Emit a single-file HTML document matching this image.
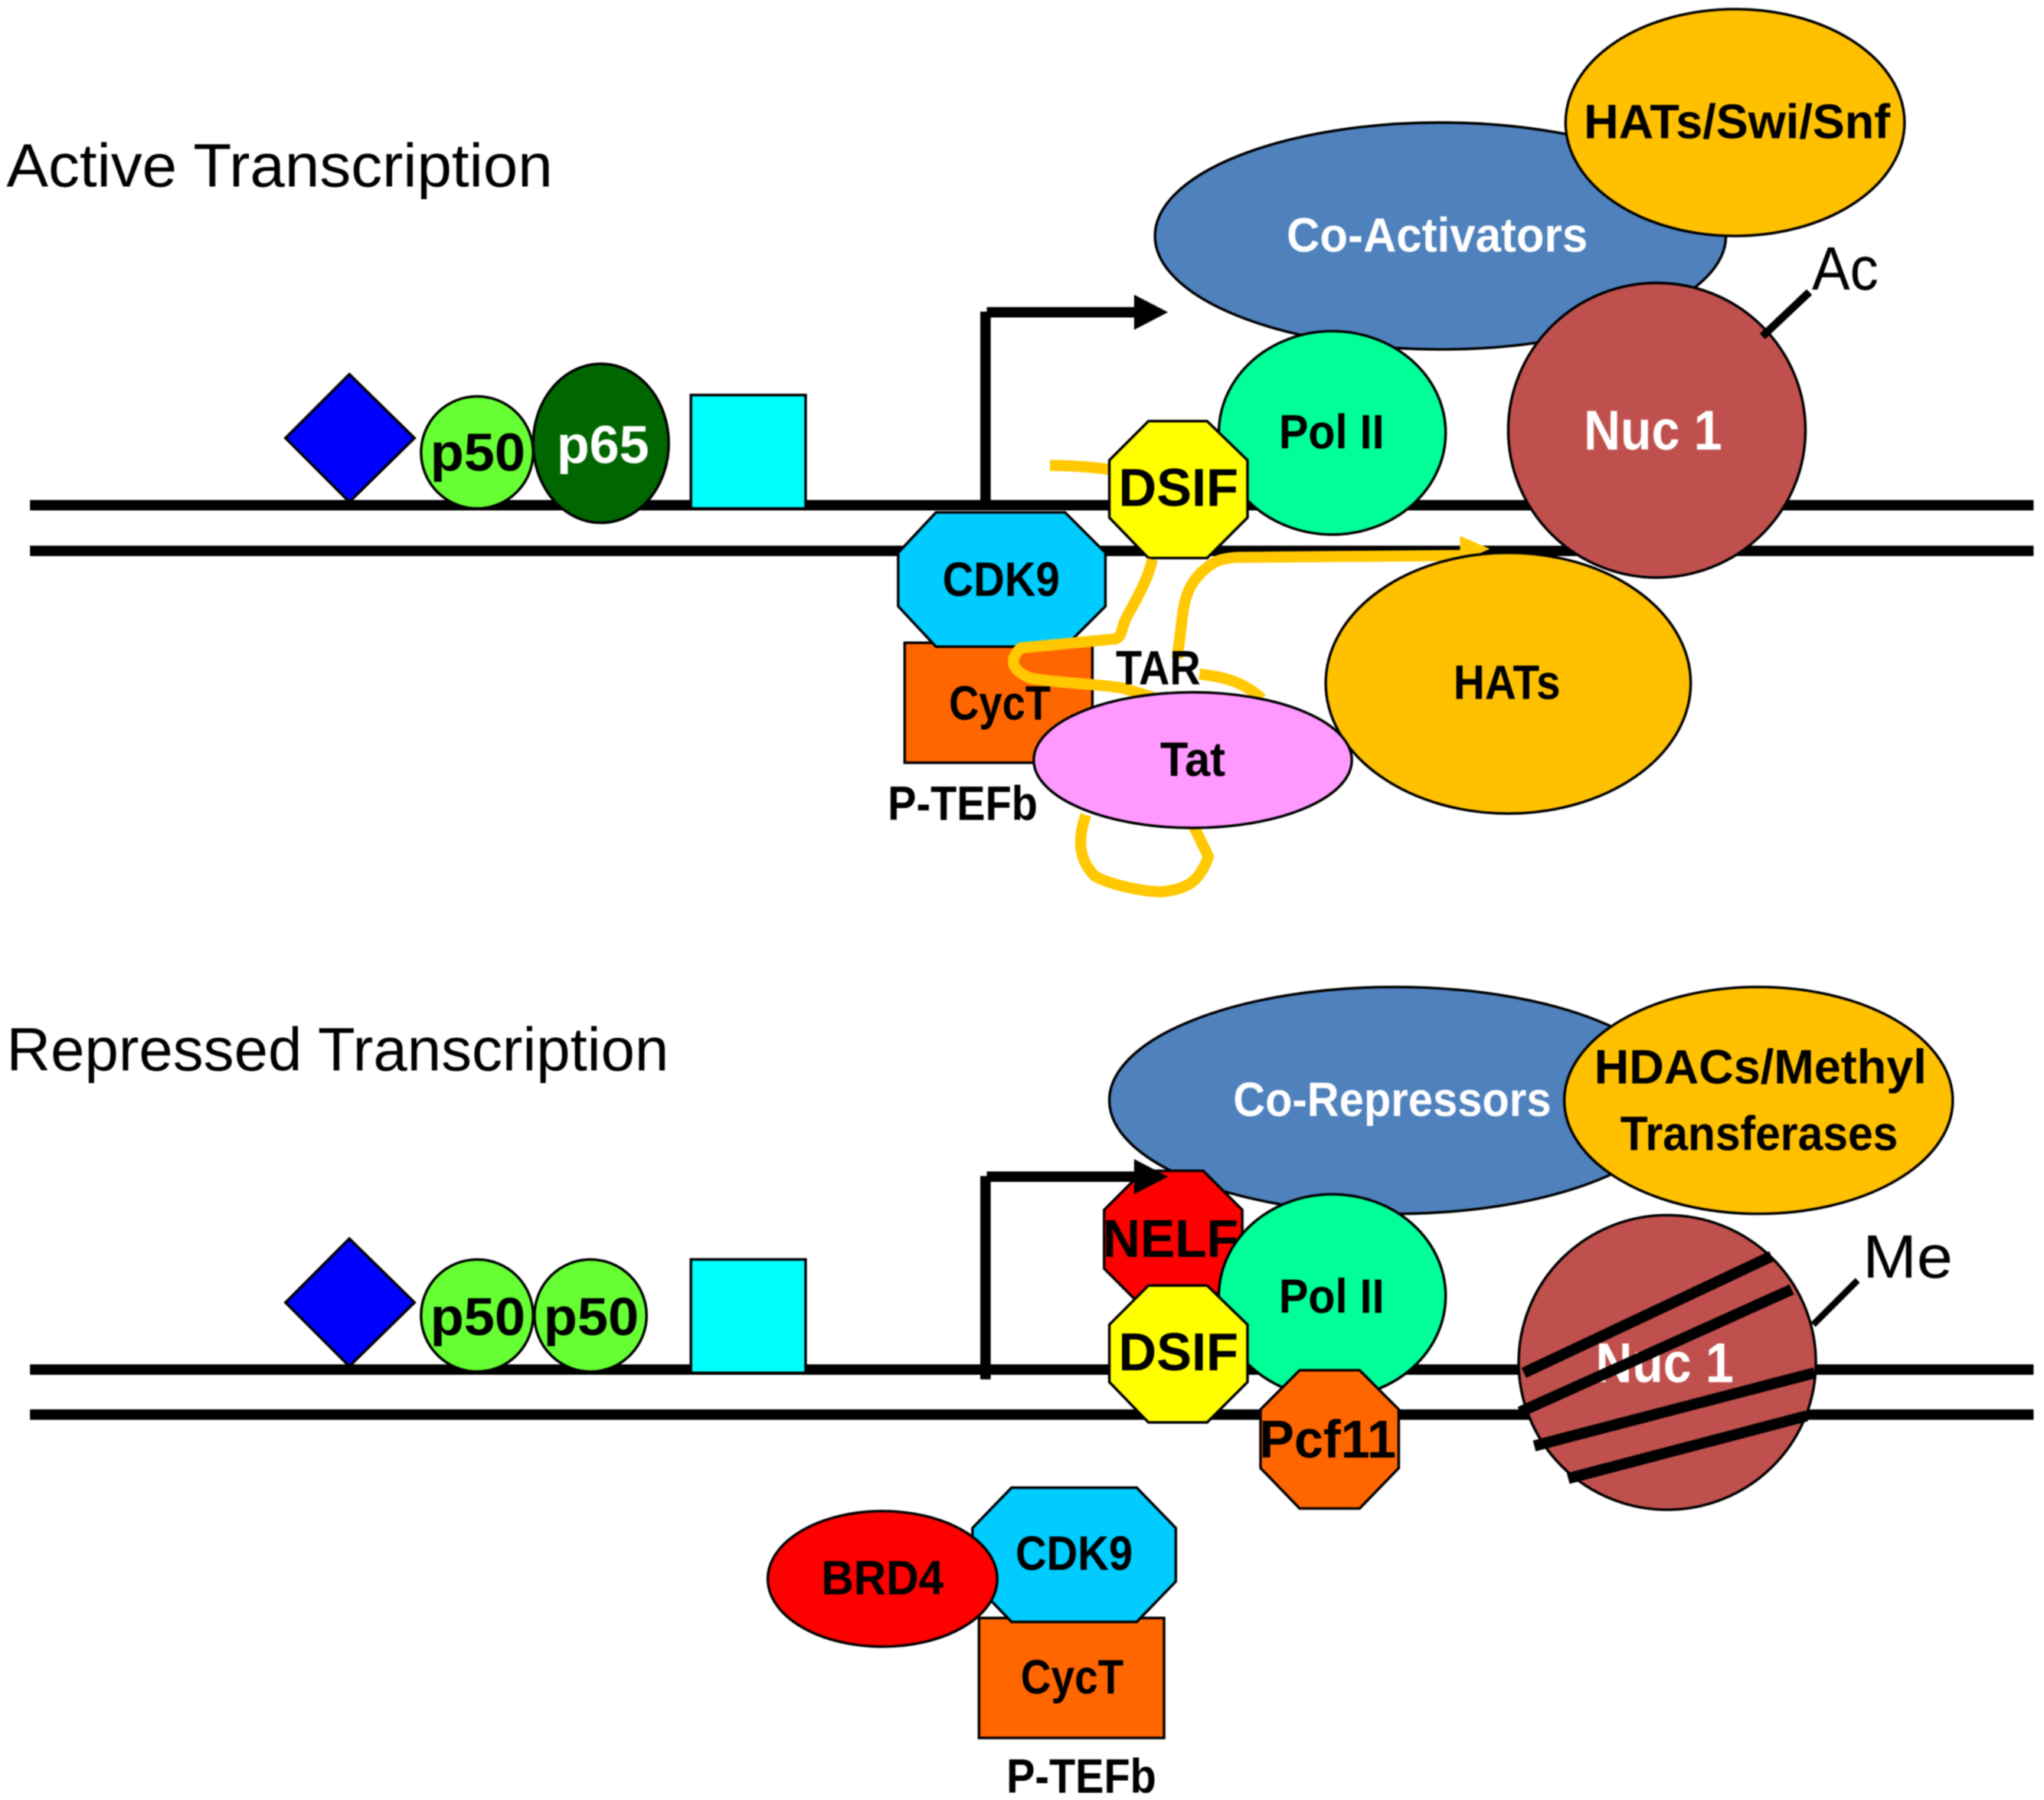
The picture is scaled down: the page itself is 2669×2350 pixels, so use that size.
<!DOCTYPE html>
<html><head><meta charset="utf-8"><style>html,body{margin:0;padding:0;background:#fff}svg{display:block;filter:blur(0.7px)}
text{font-family:"Liberation Sans",sans-serif;font-weight:bold;fill:#000;text-anchor:start}
.w{fill:#fff}.r{font-weight:normal}
.s{stroke:#000;stroke-width:2}
.y{fill:none;stroke:#ffc800;stroke-width:8.5;stroke-linejoin:round;stroke-linecap:butt}
</style></head><body>
<svg width="2669" height="2350" viewBox="0 0 1568 1380.6" xmlns="http://www.w3.org/2000/svg" preserveAspectRatio="none">
<rect width="1568" height="1381" fill="#fff"/>
<text class="r" x="5" y="143" font-size="47" textLength="419" lengthAdjust="spacingAndGlyphs">Active Transcription</text>
<text class="r" x="5" y="821" font-size="47" textLength="508" lengthAdjust="spacingAndGlyphs">Repressed Transcription</text>

<!-- top -->
<g stroke="#000" stroke-width="8"><line x1="23" y1="387.5" x2="1560" y2="387.5"/><line x1="23" y1="422.5" x2="1560" y2="422.5"/></g>
<polygon class="s" points="268,287 318,336 268,385 219,336" fill="#0000ff"/>
<ellipse class="s" cx="366" cy="347" rx="43" ry="43" fill="#66ff33"/>
<ellipse class="s" cx="461" cy="340" rx="52" ry="61" fill="#006600"/>
<rect class="s" x="530" y="303" width="88" height="87" fill="#00ffff"/>
<line x1="756" y1="387" x2="756" y2="239" stroke="#000" stroke-width="8"/>
<line x1="757" y1="239.5" x2="872" y2="239.5" stroke="#000" stroke-width="8"/>
<polygon points="870,226 896,239.5 870,253" fill="#000"/>
<path class="y" d="M805.5,357 C820,357 835,358 851,360"/>
<ellipse class="s" cx="1105" cy="181" rx="219" ry="87" fill="#4f81bd"/>
<ellipse class="s" cx="1331" cy="94" rx="130" ry="87" fill="#ffc000"/>
<ellipse class="s" cx="1022" cy="332" rx="87" ry="78" fill="#00ff99"/>
<ellipse class="s" cx="1271" cy="330" rx="114" ry="113" fill="#c0504d"/>
<line x1="1352" y1="258" x2="1388" y2="224" stroke="#000" stroke-width="6"/>
<polygon class="s" points="881,323 926,323 957,353 957,397 926,428 881,428 851,397 851,353" fill="#ffff00"/>
<rect class="s" x="694" y="493" width="144" height="92" fill="#ff6600"/>
<polygon class="s" points="718,393 817,393 848,424 848,465 817,496 718,496 689,465 689,424" fill="#00ccff"/>
<path class="y" d="M884,429 C880,447 870,462 864,474 C860,482 861,488 856,490 L783,497 C775,505 774,513 790,520 C810,524 850,525 862,528 L885,535"/>
<path class="y" d="M920,517 C935,519 952,521 968,536"/>
<path class="y" d="M903,505 L905,490 C908,465 908,450 925,436 C932,430 938,428 950,427.5 L1128,426"/>
<polygon points="1120,411 1143,421 1120,431" fill="#ffc800"/>
<ellipse class="s" cx="1157" cy="524" rx="140" ry="100" fill="#ffc000"/>
<path class="y" d="M833,625 C826,645 828,660 840,672 C855,680 880,684 891,684 C910,682 920,677 927,657 L914,630"/>
<ellipse class="s" cx="915" cy="583" rx="122" ry="52" fill="#ff99ff"/>

<text x="330" y="361" font-size="41" textLength="73" lengthAdjust="spacingAndGlyphs">p50</text>
<text class="w" x="427" y="355" font-size="41" textLength="71" lengthAdjust="spacingAndGlyphs">p65</text>
<text class="w" x="987" y="193" font-size="37" textLength="231" lengthAdjust="spacingAndGlyphs">Co-Activators</text>
<text x="1215" y="106" font-size="37" textLength="235" lengthAdjust="spacingAndGlyphs">HATs/Swi/Snf</text>
<text class="r" x="1390" y="222" font-size="47" textLength="51" lengthAdjust="spacingAndGlyphs">Ac</text>
<text class="w" x="1215" y="345" font-size="43" textLength="106" lengthAdjust="spacingAndGlyphs">Nuc 1</text>
<text x="981" y="344" font-size="37" textLength="81" lengthAdjust="spacingAndGlyphs">Pol II</text>
<text x="858" y="388" font-size="41" textLength="92" lengthAdjust="spacingAndGlyphs">DSIF</text>
<text x="723" y="457" font-size="37" textLength="90" lengthAdjust="spacingAndGlyphs">CDK9</text>
<text x="728" y="552" font-size="37" textLength="78" lengthAdjust="spacingAndGlyphs">CycT</text>
<text x="856" y="525" font-size="37" textLength="65" lengthAdjust="spacingAndGlyphs">TAR</text>
<text x="890" y="595" font-size="37" textLength="50" lengthAdjust="spacingAndGlyphs">Tat</text>
<text x="1115" y="536" font-size="37" textLength="82" lengthAdjust="spacingAndGlyphs">HATs</text>
<text x="681" y="629" font-size="37" textLength="115" lengthAdjust="spacingAndGlyphs">P-TEFb</text>

<!-- bottom -->
<g stroke="#000" stroke-width="8"><line x1="23" y1="1050.5" x2="1560" y2="1050.5"/><line x1="23" y1="1085" x2="1560" y2="1085"/></g>
<polygon class="s" points="268,950 318,999 268,1048 219,999" fill="#0000ff"/>
<ellipse class="s" cx="366" cy="1009" rx="43" ry="43" fill="#66ff33"/>
<ellipse class="s" cx="453" cy="1009" rx="43" ry="43" fill="#66ff33"/>
<rect class="s" x="530" y="966" width="88" height="87" fill="#00ffff"/>
<ellipse class="s" cx="1070" cy="844" rx="219" ry="87" fill="#4f81bd"/>
<ellipse class="s" cx="1349" cy="844" rx="149" ry="87" fill="#ffc000"/>
<polygon class="s" points="877,898 923,898 953,928 953,973 923,1003 877,1003 847,973 847,928" fill="#ff0000"/>
<line x1="756" y1="1058" x2="756" y2="902" stroke="#000" stroke-width="8"/>
<line x1="757" y1="902.5" x2="872" y2="902.5" stroke="#000" stroke-width="8"/>
<polygon points="870,889 896,902.5 870,916" fill="#000"/>
<text x="846" y="964" font-size="41" textLength="104" lengthAdjust="spacingAndGlyphs">NELF</text>
<ellipse class="s" cx="1022" cy="994" rx="87" ry="78" fill="#00ff99"/>
<polygon class="s" points="881,986 926,986 957,1016 957,1060 926,1091 881,1091 851,1060 851,1016" fill="#ffff00"/>
<polygon class="s" points="997,1051 1043,1051 1073,1081 1073,1126 1043,1157 997,1157 967,1126 967,1081" fill="#ff6600"/>
<ellipse class="s" cx="1279" cy="1045" rx="114" ry="113" fill="#c0504d"/>
<text class="w" x="1224" y="1060" font-size="43" textLength="106" lengthAdjust="spacingAndGlyphs">Nuc 1</text>
<g stroke="#000" stroke-width="8.5">
<line x1="1359" y1="963.5" x2="1169" y2="1053"/><line x1="1374.5" y1="989" x2="1166" y2="1083"/>
<line x1="1392" y1="1053" x2="1177" y2="1109"/><line x1="1386" y1="1086" x2="1203" y2="1134"/></g>
<line x1="1391" y1="1016" x2="1425" y2="982" stroke="#000" stroke-width="5"/>
<rect class="s" x="751" y="1241" width="142" height="92" fill="#ff6600"/>
<polygon class="s" points="776,1141 872,1141 902,1172 902,1213 872,1244 776,1244 746,1213 746,1172" fill="#00ccff"/>
<ellipse class="s" cx="677" cy="1211" rx="88" ry="52" fill="#ff0000"/>

<text x="330" y="1024" font-size="41" textLength="73" lengthAdjust="spacingAndGlyphs">p50</text>
<text x="417" y="1024" font-size="41" textLength="73" lengthAdjust="spacingAndGlyphs">p50</text>
<text class="w" x="946" y="856" font-size="37" textLength="244" lengthAdjust="spacingAndGlyphs">Co-Repressors</text>
<text x="1223" y="831" font-size="37" textLength="255" lengthAdjust="spacingAndGlyphs">HDACs/Methyl</text>
<text x="1243" y="882" font-size="37" textLength="213" lengthAdjust="spacingAndGlyphs">Transferases</text>
<text x="981" y="1007" font-size="37" textLength="81" lengthAdjust="spacingAndGlyphs">Pol II</text>
<text x="858" y="1051" font-size="41" textLength="92" lengthAdjust="spacingAndGlyphs">DSIF</text>
<text x="966" y="1118" font-size="41" textLength="105" lengthAdjust="spacingAndGlyphs">Pcf11</text>
<text class="r" x="1429" y="980" font-size="47" textLength="69" lengthAdjust="spacingAndGlyphs">Me</text>
<text x="630" y="1223" font-size="37" textLength="94" lengthAdjust="spacingAndGlyphs">BRD4</text>
<text x="779" y="1204" font-size="37" textLength="90" lengthAdjust="spacingAndGlyphs">CDK9</text>
<text x="783" y="1299" font-size="37" textLength="79" lengthAdjust="spacingAndGlyphs">CycT</text>
<text x="772" y="1375" font-size="37" textLength="115" lengthAdjust="spacingAndGlyphs">P-TEFb</text>
</svg>
</body></html>
